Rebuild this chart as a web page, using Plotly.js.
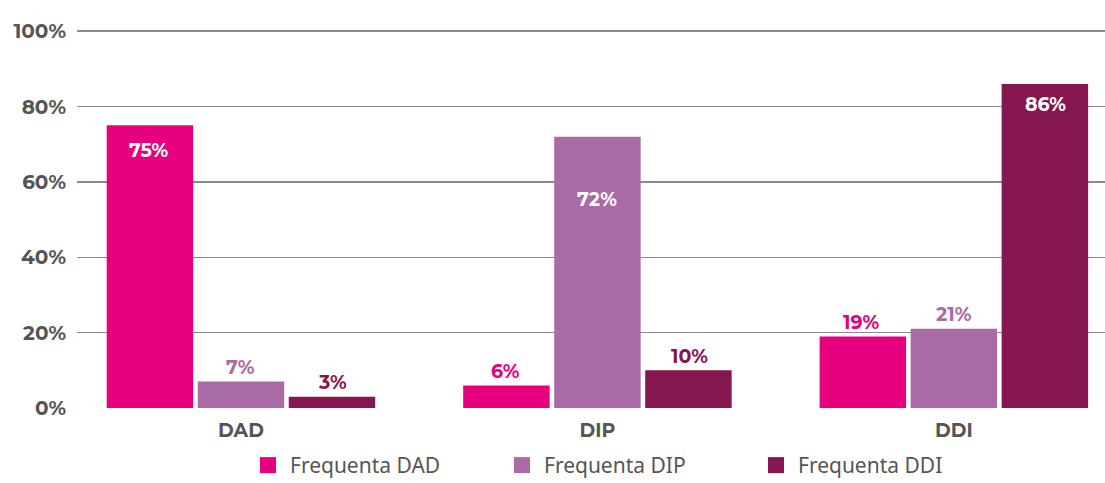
<!DOCTYPE html>
<html>
<head>
<meta charset="utf-8">
<script src="https://cdn.plot.ly/plotly-3.0.1.min.js"></script>
<style>html,body{margin:0;padding:0;background:#fff;}#chart{width:1105px;height:483px;}</style>
</head>
<body>
<div id="chart"></div>
<script>
const categories = ["DAD", "DIP", "DDI"];
const seriesNames = ["Frequenta DAD", "Frequenta DIP", "Frequenta DDI"];
const frequentaDAD = [75, 6, 19];
const frequentaDIP = [7, 72, 21];
const frequentaDDI = [3, 10, 86];
const yTickValues = [0, 20, 40, 60, 80, 100];
const yTickLabels = ["0%", "20%", "40%", "60%", "80%", "100%"];

const colors = ["#E6007E", "#AA6AA6", "#86164F"];
const seriesValues = [frequentaDAD, frequentaDIP, frequentaDDI];
const groupOffsets = [-92, 0, 92];
// label vertical shifts (px): inside labels are pushed down into the bar
const insideShift = {"0-0": -25, "1-1": -63, "2-2": -21};

const labelFont = "Montserrat, 'DejaVu Sans', sans-serif";

const traces = seriesValues.map((vals, i) => ({
  type: "bar",
  name: seriesNames[i],
  x: categories,
  y: vals,
  marker: {color: colors[i]},
  showlegend: false,
  hoverinfo: "skip"
}));

// legend-only square markers (larger legend swatches)
seriesNames.forEach((n, i) => {
  traces.push({
    type: "scatter",
    mode: "markers",
    name: n,
    x: [null],
    y: [null],
    marker: {symbol: "square", size: 16, color: colors[i]},
    showlegend: true,
    hoverinfo: "skip"
  });
});

const annotations = [];
seriesValues.forEach((vals, i) => {
  vals.forEach((v, j) => {
    const key = i + "-" + j;
    const inside = key in insideShift;
    annotations.push({
      x: categories[j],
      y: v,
      xref: "x",
      yref: "y",
      text: "<b>" + v + "%</b>",
      showarrow: false,
      xshift: groupOffsets[i],
      yshift: inside ? insideShift[key] : 14,
      xanchor: "center",
      yanchor: "middle",
      font: {family: labelFont, size: 19, color: inside ? "#ffffff" : colors[i]}
    });
  });
});

const layout = {
  width: 1105,
  height: 483,
  margin: {l: 77, r: 0, t: 30, b: 75, autoexpand: false},
  paper_bgcolor: "#ffffff",
  plot_bgcolor: "#ffffff",
  barmode: "group",
  bargap: 0.234,
  bargroupgap: 0.05,
  showlegend: true,
  annotations: annotations,
  xaxis: {
    type: "category",
    range: [-0.46, 2.424],
    showgrid: false,
    zeroline: false,
    showline: false,
    ticks: "",
    tickfont: {family: labelFont, size: 19, weight: 700, color: "#555555"},
    ticklabelstandoff: 9,
    automargin: false
  },
  yaxis: {
    range: [0, 100.3],
    tickvals: yTickValues,
    ticktext: yTickLabels,
    showgrid: true,
    gridcolor: "#8a8a8a",
    gridwidth: 1.5,
    zeroline: false,
    showline: false,
    ticks: "",
    tickfont: {family: labelFont, size: 20, weight: 700, color: "#555555"},
    ticklabelstandoff: 10,
    automargin: false
  },
  legend: {
    orientation: "h",
    x: 0.535,
    xanchor: "center",
    y: -0.152,
    yanchor: "middle",
    entrywidth: 205,
    font: {family: "'Noto Sans', sans-serif", size: 21, color: "#555555"},
    itemwidth: 34,
    traceorder: "normal"
  }
};

Plotly.newPlot("chart", traces, layout, {displayModeBar: false, staticPlot: true});
</script>
</body>
</html>
